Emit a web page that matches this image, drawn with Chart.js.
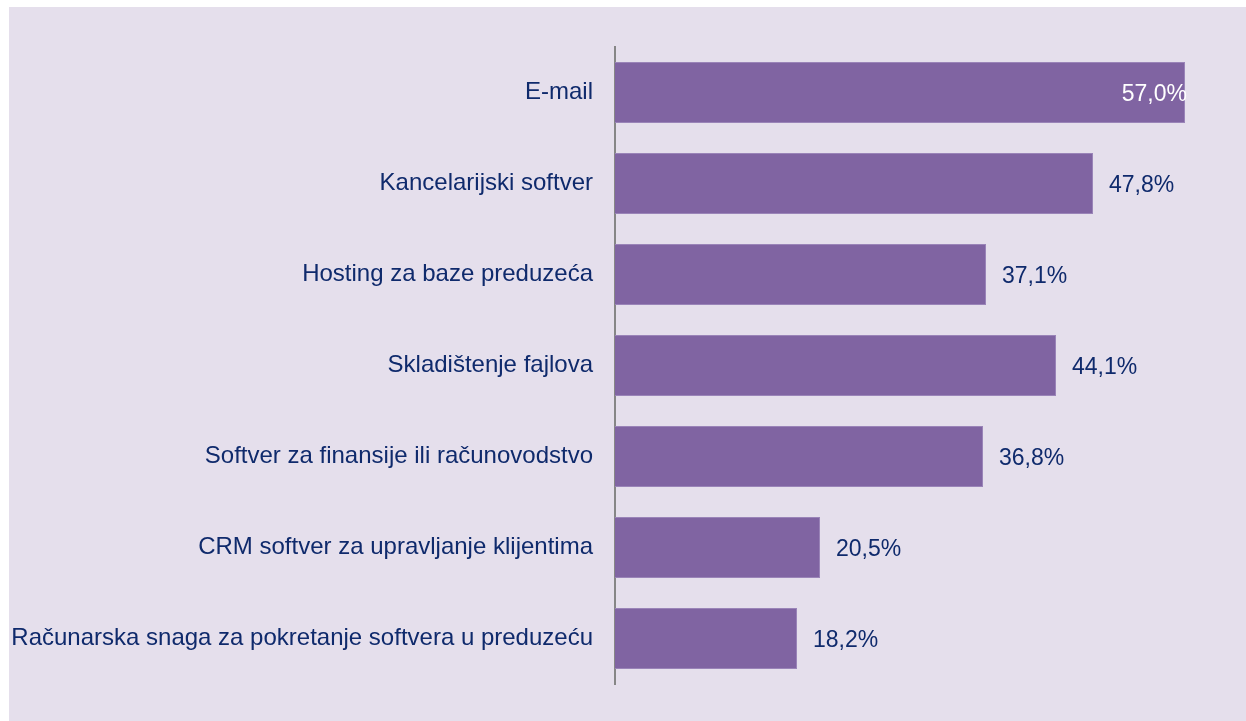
<!DOCTYPE html>
<html>
<head>
<meta charset="utf-8">
<script src="https://cdn.jsdelivr.net/npm/chart.js@4/dist/chart.umd.min.js"></script>
<style>
  html, body { margin: 0; padding: 0; background: #fff; }
  .chart-box {
    position: absolute; left: 9px; top: 7px;
    width: 1237px; height: 714px;
    background: #E5DFEC;
  }
</style>
</head>
<body>
<div class="chart-box"><canvas id="chart" width="1237" height="714"></canvas></div>
<script>
var categories = [
  'E-mail',
  'Kancelarijski softver',
  'Hosting za baze preduzeća',
  'Skladištenje fajlova',
  'Softver za finansije ili računovodstvo',
  'CRM softver za upravljanje klijentima',
  'Računarska snaga za pokretanje softvera u preduzeću'
];
var shares = [57.0, 47.8, 37.1, 44.1, 36.8, 20.5, 18.2];

var fontFamily = '"Liberation Sans", Arial, sans-serif';
var valueFont = '23px ' + fontFamily;
var textColor = '#0F2A6C';

function formatShare(v) {
  return v.toFixed(1).replace('.', ',') + '%';
}

// draws value labels at bar ends, inside in white when there is no room
var valueLabels = {
  id: 'valueLabels',
  afterDatasetsDraw: function(chart) {
    var ctx = chart.ctx;
    var meta = chart.getDatasetMeta(0);
    ctx.save();
    ctx.font = valueFont;
    ctx.textBaseline = 'middle';
    meta.data.forEach(function(bar, i) {
      var text = formatShare(shares[i]);
      var w = ctx.measureText(text).width;
      if (bar.x + 15 + w > chart.width - 4) {
        ctx.fillStyle = '#fff';
        ctx.textAlign = 'right';
        ctx.fillText(text, bar.x + 2, bar.y + 2);
      } else {
        ctx.fillStyle = textColor;
        ctx.textAlign = 'left';
        ctx.fillText(text, bar.x + 16, bar.y + 2);
      }
    });
    ctx.restore();
  }
};

var ctx = document.getElementById('chart').getContext('2d');
new Chart(ctx, {
  type: 'bar',
  data: {
    labels: categories,
    datasets: [{
      data: shares,
      backgroundColor: '#8064A2',
      borderColor: '#9A84B8',
      borderWidth: 1,
      borderSkipped: 'left',
      categoryPercentage: 1,
      barPercentage: 0.67
    }]
  },
  options: {
    indexAxis: 'y',
    responsive: false,
    animation: false,
    layout: { padding: { top: 40, bottom: 37, right: 61, left: 0 } },
    plugins: {
      legend: { display: false },
      tooltip: { enabled: false }
    },
    scales: {
      x: {
        display: false,
        min: 0,
        max: 57
      },
      y: {
        grid: { display: false, drawTicks: false },
        border: { display: true, color: '#868686', width: 2 },
        ticks: {
          color: textColor,
          font: { family: fontFamily, size: 24 },
          padding: 22
        },
        afterFit: function(scale) { scale.width = 606; }
      }
    }
  },
  plugins: [valueLabels]
});
</script>
</body>
</html>
